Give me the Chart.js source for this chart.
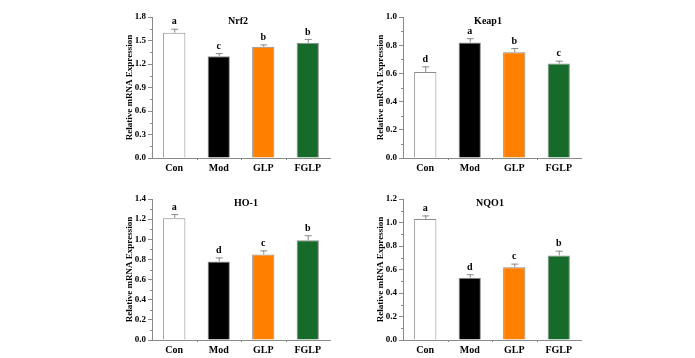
<!DOCTYPE html>
<html><head><meta charset="utf-8">
<script src="https://cdn.jsdelivr.net/npm/chart.js@4"></script>
<style>
html,body{margin:0;padding:0;background:#fff;width:695px;height:358px;overflow:hidden;position:relative}
canvas{position:absolute}
</style></head><body>
<canvas id="c1" width="238" height="175" style="left:102px;top:3px"></canvas>
<canvas id="c2" width="238" height="175" style="left:353px;top:3px"></canvas>
<canvas id="c3" width="238" height="175" style="left:102px;top:185px"></canvas>
<canvas id="c4" width="238" height="175" style="left:353px;top:185px"></canvas>
<script>
const categories = ['Con', 'Mod', 'GLP', 'FGLP'];
const barColors = ['#ffffff', '#000000', '#ff7f00', '#166b2b'];

const nrf2Values = [1.60, 1.30, 1.42, 1.47];
const nrf2Errors = [0.05, 0.04, 0.03, 0.05];
const nrf2Letters = ['a', 'c', 'b', 'b'];

const keap1Values = [0.61, 0.82, 0.75, 0.67];
const keap1Errors = [0.04, 0.03, 0.03, 0.02];
const keap1Letters = ['d', 'a', 'b', 'c'];

const ho1Values = [1.21, 0.78, 0.85, 0.99];
const ho1Errors = [0.04, 0.04, 0.04, 0.05];
const ho1Letters = ['a', 'd', 'c', 'b'];

const nqo1Values = [1.03, 0.53, 0.62, 0.72];
const nqo1Errors = [0.03, 0.03, 0.03, 0.04];
const nqo1Letters = ['a', 'd', 'c', 'b'];

const FONT = "'Liberation Serif','Times New Roman',serif";
const AXIS = '#8a8a8a';

function makeChart(id, title, values, errors, letters, yMax, yStep, titleDx) {
  const extras = {
    id: 'extras',
    afterDatasetsDraw(chart) {
      const ctx = chart.ctx;
      const y = chart.scales.y, x = chart.scales.x;
      const meta = chart.getDatasetMeta(0);
      ctx.save();
      // error bars and letters
      meta.data.forEach((bar, i) => {
        const top = y.getPixelForValue(values[i]);
        const et = y.getPixelForValue(values[i] + errors[i]);
        const cx = bar.x;
        ctx.strokeStyle = '#8a8a8a';
        ctx.lineWidth = 1;
        ctx.beginPath();
        ctx.moveTo(cx + 0.5, top);
        ctx.lineTo(cx + 0.5, et);
        ctx.moveTo(cx - 3, et + 0.5);
        ctx.lineTo(cx + 4, et + 0.5);
        ctx.stroke();
        ctx.fillStyle = '#000';
        ctx.font = 'bold 10px ' + FONT;
        ctx.textAlign = 'center';
        ctx.textBaseline = 'bottom';
        ctx.fillText(letters[i], cx, et - 2);
      });
      // minor ticks on y
      ctx.strokeStyle = AXIS;
      ctx.beginPath();
      for (let v = yStep / 2; v < yMax; v += yStep) {
        const py = Math.round(y.getPixelForValue(v)) + 0.5;
        ctx.moveTo(y.right - 2, py);
        ctx.lineTo(y.right, py);
      }
      // minor ticks on x at boundaries
      for (let i = 1; i < categories.length; i++) {
        const px = Math.round((x.getPixelForValue(i - 1) + x.getPixelForValue(i)) / 2) + 0.5;
        ctx.moveTo(px, x.top);
        ctx.lineTo(px, x.top + 2);
      }
      ctx.stroke();
      // panel title
      ctx.fillStyle = '#000';
      ctx.font = 'bold 10px ' + FONT;
      ctx.textAlign = 'center';
      ctx.textBaseline = 'top';
      ctx.fillText(title, (chart.chartArea.left + chart.chartArea.right) / 2 + titleDx, chart.chartArea.top - 1);
      ctx.restore();
    }
  };
  return new Chart(document.getElementById(id), {
    type: 'bar',
    data: {
      labels: categories,
      datasets: [{
        data: values,
        backgroundColor: barColors,
        borderColor: '#8c8c8c',
        borderWidth: 1,
        barPercentage: 0.5,
        categoryPercentage: 1.0
      }]
    },
    options: {
      responsive: false,
      animation: false,
      layout: { padding: { top: 14, right: 10, left: 0, bottom: 0 } },
      plugins: { legend: { display: false }, tooltip: { enabled: false }, title: { display: false } },
      scales: {
        x: {
          afterFit(s) { s.height = 20; },
          grid: { display: false, drawTicks: true, tickLength: 3, tickColor: AXIS, offset: false },
          border: { display: true, color: AXIS, width: 1 },
          ticks: { color: '#000', font: { family: FONT, size: 10, weight: 'bold' }, padding: 1 }
        },
        y: {
          min: 0, max: yMax,
          afterFit(s) { s.width = 50; },
          grid: { display: true, drawOnChartArea: false, drawTicks: true, tickLength: 4, tickColor: AXIS },
          border: { display: true, color: AXIS, width: 1 },
          ticks: {
            stepSize: yStep, color: '#000', padding: 2,
            font: { family: FONT, size: 9, weight: 'bold' },
            callback: v => Number(v).toFixed(1)
          },
          title: {
            display: true, text: 'Relative mRNA Expression', color: '#000',
            font: { family: FONT, size: 9, weight: 'bold' },
            padding: { top: 22, bottom: 0 }
          }
        }
      }
    },
    plugins: [extras]
  });
}

makeChart('c1', 'Nrf2', nrf2Values, nrf2Errors, nrf2Letters, 1.8, 0.3, -3);
makeChart('c2', 'Keap1', keap1Values, keap1Errors, keap1Letters, 1.0, 0.2, -4);
makeChart('c3', 'HO-1', ho1Values, ho1Errors, ho1Letters, 1.4, 0.2, 5);
makeChart('c4', 'NQO1', nqo1Values, nqo1Errors, nqo1Letters, 1.2, 0.2, -2);
</script>
</body></html>
